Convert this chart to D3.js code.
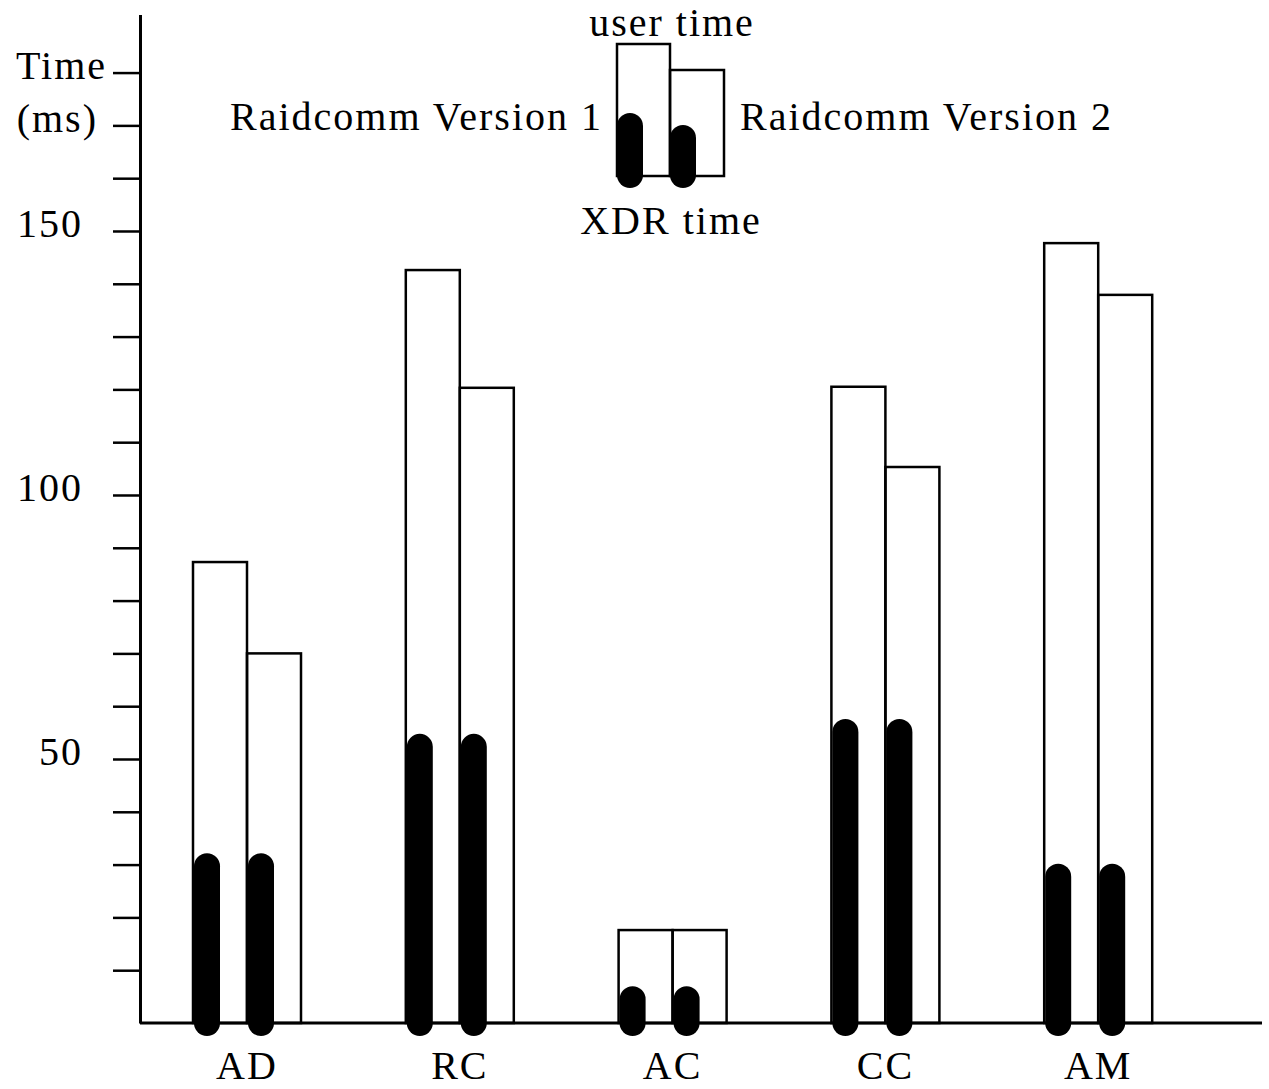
<!DOCTYPE html>
<html>
<head>
<meta charset="utf-8">
<script src="https://cdn.jsdelivr.net/npm/d3@7"></script>
<style>
  body { margin: 0; background: #fff; }
  text { font-family: "Liberation Serif", serif; font-size: 40px; letter-spacing: 2px; fill: #000; }
</style>
</head>
<body>
<div id="chart"></div>
<script>
const categories = ['AD', 'RC', 'AC', 'CC', 'AM'];
const userV1 = [87.3, 142.6, 17.6, 120.5, 147.7];
const userV2 = [70, 120.3, 17.6, 105.3, 137.9];
const xdrV1 = [29.7, 52.3, 4.5, 55.1, 27.7];
const xdrV2 = [29.7, 52.3, 4.5, 55.1, 27.7];
const yTickLabels = { 50: '50', 100: '100', 150: '150', 170: '(ms)', 180: 'Time' };

const width = 1269;
const height = 1089;

const svg = d3.select('#chart')
    .append('svg')
    .attr('width', width)
    .attr('height', height);

const xScale = d3.scaleBand()
    .domain(categories)
    .range([140.6, 1204.6]);

const yScale = d3.scaleLinear()
    .domain([0, 191])
    .range([1023, 14.5]);

const barW = 54;
const capR = 13;

const rows = categories.map((c, i) => ({
    cat: c, u1: userV1[i], u2: userV2[i], x1: xdrV1[i], x2: xdrV2[i]
}));

const mid = d => xScale(d.cat) + xScale.bandwidth() / 2;

// user time boxes
svg.selectAll('rect.v1')
    .data(rows)
    .enter()
    .append('rect')
    .attr('class', 'v1')
    .attr('x', d => mid(d) - barW)
    .attr('y', d => yScale(d.u1))
    .attr('width', barW)
    .attr('height', d => yScale(0) - yScale(d.u1))
    .attr('fill', 'none')
    .attr('stroke', '#000')
    .attr('stroke-width', 2.5);

svg.selectAll('rect.v2')
    .data(rows)
    .enter()
    .append('rect')
    .attr('class', 'v2')
    .attr('x', d => mid(d))
    .attr('y', d => yScale(d.u2))
    .attr('width', barW)
    .attr('height', d => yScale(0) - yScale(d.u2))
    .attr('fill', 'none')
    .attr('stroke', '#000')
    .attr('stroke-width', 2.5);

// XDR time, thick round-capped lines
svg.selectAll('line.x1')
    .data(rows)
    .enter()
    .append('line')
    .attr('x1', d => mid(d) - barW + 14)
    .attr('x2', d => mid(d) - barW + 14)
    .attr('y1', yScale(0))
    .attr('y2', d => yScale(d.x1))
    .attr('stroke', '#000')
    .attr('stroke-width', capR * 2)
    .attr('stroke-linecap', 'round');

svg.selectAll('line.x2')
    .data(rows)
    .enter()
    .append('line')
    .attr('x1', d => mid(d) + 14)
    .attr('x2', d => mid(d) + 14)
    .attr('y1', yScale(0))
    .attr('y2', d => yScale(d.x2))
    .attr('stroke', '#000')
    .attr('stroke-width', capR * 2)
    .attr('stroke-linecap', 'round');

// y axis
const yAxis = svg.append('g')
    .attr('class', 'y-axis')
    .attr('transform', 'translate(140, 0)')
    .call(d3.axisLeft(yScale)
        .tickValues(d3.range(10, 190, 10))
        .tickSize(27)
        .tickSizeOuter(0)
        .tickFormat(d => yTickLabels[d] || ''));

yAxis.select('.domain').attr('stroke-width', 3);
yAxis.selectAll('.tick line').attr('stroke-width', 2.5);
yAxis.selectAll('.tick text')
    .attr('font-size', null)
    .attr('font-family', null)
    .attr('dy', d => d >= 170 ? '0.15em' : '0.15em')
    .attr('x', d => d === 180 ? -33 : d === 170 ? -42 : -57);

// x axis
svg.append('line')
    .attr('x1', 140)
    .attr('x2', 1262)
    .attr('y1', yScale(0))
    .attr('y2', yScale(0))
    .attr('stroke', '#000')
    .attr('stroke-width', 3);

const xAxis = svg.append('g')
    .attr('class', 'x-axis')
    .attr('transform', `translate(0, ${yScale(0)})`)
    .call(d3.axisBottom(xScale).tickSize(0).tickPadding(28));
xAxis.select('.domain').remove();
xAxis.selectAll('.tick text')
    .attr('font-size', null)
    .attr('font-family', null);

// legend
const lg = svg.append('g').attr('class', 'legend');
lg.append('rect').attr('x', 617).attr('y', 44).attr('width', 53).attr('height', 132)
    .attr('fill', 'none').attr('stroke', '#000').attr('stroke-width', 2.5);
lg.append('rect').attr('x', 670).attr('y', 70).attr('width', 54).attr('height', 106)
    .attr('fill', 'none').attr('stroke', '#000').attr('stroke-width', 2.5);
lg.append('line').attr('x1', 630).attr('x2', 630).attr('y1', 126).attr('y2', 175)
    .attr('stroke', '#000').attr('stroke-width', capR * 2).attr('stroke-linecap', 'round');
lg.append('line').attr('x1', 683).attr('x2', 683).attr('y1', 138).attr('y2', 175)
    .attr('stroke', '#000').attr('stroke-width', capR * 2).attr('stroke-linecap', 'round');
lg.append('text').attr('x', 672).attr('y', 36).attr('text-anchor', 'middle').text('user time');
lg.append('text').attr('x', 671).attr('y', 234).attr('text-anchor', 'middle').text('XDR time');
lg.append('text').attr('x', 603).attr('y', 130).attr('text-anchor', 'end').text('Raidcomm Version 1');
lg.append('text').attr('x', 740).attr('y', 130).text('Raidcomm Version 2');
</script>
</body>
</html>
